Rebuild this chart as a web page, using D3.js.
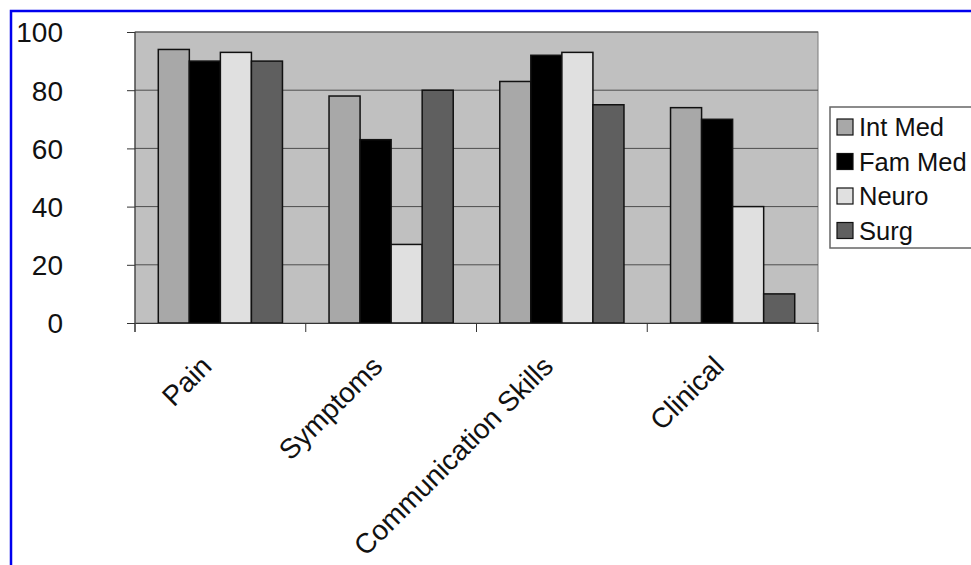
<!DOCTYPE html>
<html>
<head>
<meta charset="utf-8">
<script src="https://cdn.jsdelivr.net/npm/d3@7"></script>
<style>
  html, body { margin: 0; padding: 0; background: #fff; }
  svg { display: block; font-family: Arial, "Liberation Sans", sans-serif; }
</style>
</head>
<body>
<svg id="chart" width="971" height="565"></svg>
<script>
const categories = ["Pain", "Symptoms", "Communication Skills", "Clinical"];
const seriesNames = ["Int Med", "Fam Med", "Neuro", "Surg"];
const intMed = [94, 78, 83, 74];
const famMed = [90, 63, 92, 70];
const neuro  = [93, 27, 93, 40];
const surg   = [90, 80, 75, 10];
const yTicks = [0, 20, 40, 60, 80, 100];
const colors = ["#a8a8a8", "#000000", "#e0e0e0", "#5f5f5f"];

const seriesValues = [intMed, famMed, neuro, surg];
const data = categories.map((c, i) => ({
  cat: c,
  vals: seriesNames.map((s, j) => ({ key: s, value: seriesValues[j][i], color: colors[j] }))
}));

const svg = d3.select("#chart");
const plot = { left: 135, right: 818, top: 32, bottom: 323 };

// blue frame
svg.append("rect")
  .attr("x", 11).attr("y", 11).attr("width", 1000).attr("height", 600)
  .attr("fill", "none").attr("stroke", "#0000ee").attr("stroke-width", 2.5);

const x0 = d3.scaleBand().domain(categories).range([plot.left, plot.right]).padding(0);
const groupW = x0.bandwidth() * 4 / 5.5;
const x1 = d3.scaleBand().domain(seriesNames).range([0, groupW]).padding(0);
const y = d3.scaleLinear().domain([0, 100]).range([plot.bottom, plot.top]);

// plot background
svg.append("rect")
  .attr("x", plot.left).attr("y", plot.top)
  .attr("width", plot.right - plot.left).attr("height", plot.bottom - plot.top)
  .attr("fill", "#c0c0c0").attr("stroke", "#7a7a7a").attr("stroke-width", 1);

// gridlines
svg.append("g").selectAll("line").data(yTicks.filter(d => d > 0)).join("line")
  .attr("x1", plot.left).attr("x2", plot.right)
  .attr("y1", d => y(d)).attr("y2", d => y(d))
  .attr("stroke", "#4d4d4d").attr("stroke-width", 1);

// bars
const groups = svg.append("g").selectAll("g").data(data).join("g")
  .attr("transform", d => `translate(${x0(d.cat) + (x0.bandwidth() - groupW) / 2},0)`);
groups.selectAll("rect").data(d => d.vals).join("rect")
  .attr("x", d => x1(d.key))
  .attr("y", d => y(d.value))
  .attr("width", x1.bandwidth())
  .attr("height", d => y(0) - y(d.value))
  .attr("fill", d => d.color)
  .attr("stroke", "#111").attr("stroke-width", 1.5);

// y axis
const yAxis = d3.axisLeft(y).tickValues(yTicks).tickSize(8).tickPadding(64).tickSizeOuter(0);
const gy = svg.append("g").attr("transform", `translate(${plot.left},0)`).call(yAxis);
gy.select(".domain").attr("stroke", "#333").attr("d", `M0,${plot.top}V${plot.bottom + 9}`);
gy.selectAll(".tick line").attr("stroke", "#333");
gy.selectAll(".tick text").attr("font-size", 28).attr("fill", "#111")
  .attr("font-family", "Arial, 'Liberation Sans', sans-serif").attr("dy", "0.35em");

// x axis
const xAxis = d3.axisBottom(x0).tickSize(0).tickFormat("");
const gx = svg.append("g").attr("transform", `translate(0,${plot.bottom})`).call(xAxis);
gx.select(".domain").attr("stroke", "#333");
// category separators
const seps = categories.map(c => x0(c)).concat([plot.right]);
gx.selectAll(".sep").data(seps).join("line").attr("class", "sep")
  .attr("x1", d => d).attr("x2", d => d).attr("y1", 0).attr("y2", 9)
  .attr("stroke", "#333");

// category labels
svg.append("g").selectAll("text").data(categories).join("text")
  .attr("transform", d => `translate(${x0(d) + x0.bandwidth() / 2 - 7},368) rotate(-45)`)
  .attr("text-anchor", "end")
  .attr("font-size", 28).attr("fill", "#111")
  .text(d => d);

// legend
const lg = svg.append("g");
lg.append("rect").attr("x", 830).attr("y", 107).attr("width", 170).attr("height", 141)
  .attr("fill", "#fff").attr("stroke", "#666").attr("stroke-width", 1.5);
const items = lg.selectAll("g.item").data(seriesNames).join("g").attr("class", "item")
  .attr("transform", (d, i) => `translate(837,${127 + i * 34.5})`);
items.append("rect").attr("x", 0).attr("y", -8).attr("width", 16).attr("height", 16)
  .attr("fill", (d, i) => colors[i]).attr("stroke", "#111").attr("stroke-width", 1.2);
items.append("text").attr("x", 22).attr("y", 0).attr("dy", "0.36em")
  .attr("font-size", 25.5).attr("fill", "#111").text(d => d);
</script>
</body>
</html>
